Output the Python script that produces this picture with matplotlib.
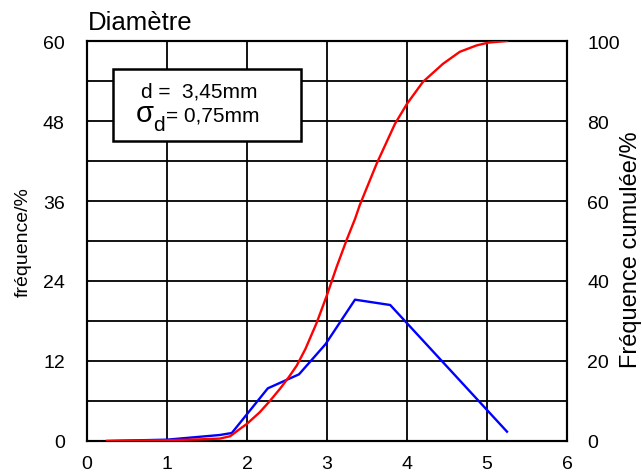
import numpy as np
import matplotlib.pyplot as plt
from matplotlib.patches import Rectangle

plt.rcParams['font.family'] = ['Liberation Sans', 'DejaVu Sans']

# frequency distribution (left axis, %)
freq_x = [0.25, 1.0, 1.66, 1.81, 2.26, 2.65, 2.98, 3.35, 3.79, 5.25]
freq_y = [0.0, 0.2, 0.9, 1.2, 7.9, 10.0, 14.5, 21.2, 20.4, 1.4]

# cumulative frequency (right axis, %)
cum_x = [0.25, 1.0, 1.4, 1.66, 1.79, 1.91, 2.0, 2.16, 2.29, 2.41, 2.52,
         2.62, 2.73, 2.87, 3.0, 3.12, 3.25, 3.35, 3.41, 3.62, 3.85, 4.0,
         4.2, 4.45, 4.66, 4.87, 5.02, 5.25]
cum_y = [0.0, 0.2, 0.4, 0.6, 1.2, 3.0, 4.3, 7.2, 10.1, 13.0, 15.9,
         18.8, 23.0, 29.5, 36.5, 43.5, 50.5, 55.5, 59.0, 69.3, 79.3, 84.3,
         89.8, 94.3, 97.3, 98.9, 99.6, 100.0]

x_ticks = [0, 1, 2, 3, 4, 5, 6]
left_ticks = [0, 12, 24, 36, 48, 60]
right_ticks = [0, 20, 40, 60, 80, 100]

W, H = 642, 477
fig = plt.figure(figsize=(W / 100, H / 100), dpi=100)
ax = fig.add_axes([87 / W, 1 - 442 / H, 480 / W, 400 / H])
ax2 = ax.twinx()

fs = 14
ax.set_xlim(0, 6)
ax.set_ylim(0, 60)
ax.set_xticks(x_ticks)
ax.set_yticks(left_ticks)
ax.set_yticks(np.arange(0, 61, 6), minor=True)
ax.grid(True, which='both', color='black', lw=1.3)
ax.set_axisbelow(True)
ax.tick_params(axis='x', length=0, labelsize=fs, pad=10)
ax.tick_params(axis='y', which='both', length=0, labelsize=fs, pad=16)
ax.set_ylabel('fréquence/%', fontsize=fs, labelpad=8)

ax.plot(freq_x, freq_y, color='#0000ff', lw=1.7, zorder=3)

ax2.set_ylim(0, 100)
ax2.set_yticks(right_ticks)
ax2.tick_params(axis='y', length=0, labelsize=fs, pad=14.5)
ax2.plot(cum_x, cum_y, color='#ff0000', lw=1.7, zorder=3,
         solid_joinstyle='round')

for a in (ax, ax2):
    for s in a.spines.values():
        s.set_linewidth(1.5)
        s.set_color('black')

fig.text(620 / W, 1 - 250 / H, 'Fréquence cumulée/%', fontsize=17,
         rotation=90, ha='left', va='center')

fig.text(88 / W, 1 - 29.5 / H, 'Diamètre', fontsize=18.5, ha='left', va='baseline')

box = Rectangle((113 / W, 1 - 141.7 / H), 187.7 / W, 71.7 / H,
                transform=fig.transFigure, facecolor='white', edgecolor='black',
                lw=1.8, zorder=5)
fig.add_artist(box)
fig.text(141 / W, 1 - 97.7 / H, 'd =  3,45mm', fontsize=15,
         ha='left', va='baseline', zorder=6)
fig.text(136 / W, 1 - 121.7 / H, 'σ', fontsize=21,
         ha='left', va='baseline', zorder=6)
fig.text(153 / W, 1 - 131 / H, 'd', fontsize=15,
         ha='left', va='baseline', zorder=6)
fig.text(166 / W, 1 - 121.7 / H, '= 0,75mm', fontsize=15,
         ha='left', va='baseline', zorder=6)

fig.savefig('out.png', dpi=100)
